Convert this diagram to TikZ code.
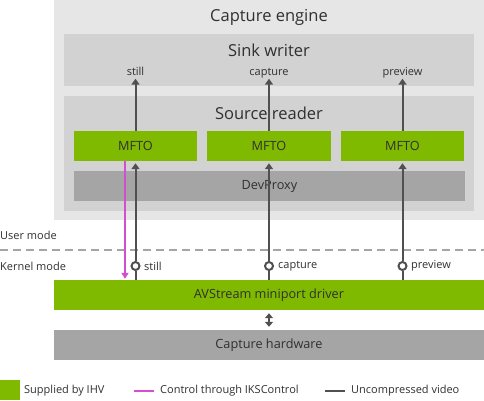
\documentclass[tikz,border=0pt]{standalone}
\usepackage{fontspec}
\setmainfont{Open Sans}
\usetikzlibrary{arrows.meta}
\definecolor{enginegray}{HTML}{E6E6E6}
\definecolor{panelgray}{HTML}{D2D2D2}
\definecolor{proxygray}{HTML}{A5A5A5}
\definecolor{ihvgreen}{HTML}{7FBA00}
\definecolor{videogray}{HTML}{505050}
\definecolor{ctlpink}{HTML}{D050D0}
\definecolor{txtgray}{HTML}{303030}

\begin{document}
\begin{tikzpicture}[x=1pt,y=-1pt,
    every node/.style={text=txtgray},
    panel/.style={inner sep=0pt,minimum width=#1},
    title/.style={font=\fontsize{16.5}{18}\selectfont},
    body/.style={font=\fontsize{12.7}{14}\selectfont},
    small/.style={font=\fontsize{11}{13}\selectfont},
    pinlabel/.style={small,inner sep=1pt,text height=8pt,text depth=2pt},
    pin/.style={circle,draw=videogray,fill=white,line width=2pt,inner sep=0pt,minimum size=8pt},
    video/.style={draw=videogray,line width=2pt},
    control/.style={draw=ctlpink,line width=2pt},
    tip/.style={-{Triangle[width=8pt,length=6pt]},shorten >=2pt}]
\useasboundingbox (0,0) rectangle (484,400);

% capture engine with its two panels
\node[panel=430pt,minimum height=220pt,fill=enginegray] (engine) at (269,110) {};
\node[title] (enginetitle) at (269,17) {Capture engine};
\node[panel=410pt,minimum height=52pt,fill=panelgray] (sink) at (269,60) {};
\node[title] (sinktitle) at (269,50) {Sink writer};
\node[panel=410pt,minimum height=115pt,fill=panelgray] (source) at (269,153.5) {};
\node[title] (sourcetitle) at (269,113) {Source reader};

% sink writer inputs
\node[pinlabel] (instill) at (135.5,72.5) {still};
\node[pinlabel] (incapture) at (269,72.5) {capture};
\node[pinlabel] (inpreview) at (402.5,72.5) {preview};

% MFTO boxes and DevProxy
\node[body,panel=123pt,minimum height=30pt,fill=ihvgreen] (mftostill) at (135.5,146) {MFTO};
\node[body,panel=124pt,minimum height=30pt,fill=ihvgreen] (mftocapture) at (269,146) {MFTO};
\node[body,panel=123pt,minimum height=30pt,fill=ihvgreen] (mftopreview) at (402.5,146) {MFTO};
\node[body,panel=391pt,minimum height=30pt,fill=proxygray] (devproxy) at (269.5,186) {DevProxy};

% user / kernel boundary
\draw[proxygray,line width=2pt,dash pattern=on 8pt off 5pt] (0,250) -- (484,250);
\node[small,anchor=west,inner sep=0pt] (usermode) at (0,235) {User mode};
\node[small,anchor=west,inner sep=0pt] (kernelmode) at (0,266) {Kernel mode};

% driver and hardware
\node[body,panel=430pt,minimum height=30pt,fill=ihvgreen] (avs) at (269,295) {AVStream miniport driver};
\node[body,panel=430pt,minimum height=30pt,fill=proxygray] (hw) at (269,345) {Capture hardware};

% stream pins
\node[pin] (pinstill) at (135.5,266) {};
\node[pin] (pincapture) at (269,266) {};
\node[pin] (pinpreview) at (402.5,266) {};
\node[small,anchor=west,inner sep=0pt] (lblstill) at (144,266) {still};
\node[small,anchor=west,inner sep=0pt] (lblcapture) at (278,266) {capture};
\node[small,anchor=west,inner sep=0pt] (lblpreview) at (411,266) {preview};

% video connectors
\foreach \s in {still,capture,preview} {
  \draw[video] (avs.north -| pin\s) -- (pin\s);
  \draw[video,tip] (pin\s) -- (mfto\s.south);
  \draw[video,tip,shorten >=0pt] (mfto\s.north) -- (in\s.south);
}
\draw[video,{Triangle[width=8pt,length=5pt]}-{Triangle[width=8pt,length=5pt]},shorten <=3pt,shorten >=3pt] (avs.south) -- (hw.north);

% control through IKSControl
\coordinate (ctl) at (125,0);
\draw[control,-{Triangle[width=7pt,length=6pt]},shorten >=1pt] (mftostill.south -| ctl) -- (avs.north -| ctl);

% legend
\node[panel=20pt,minimum height=20pt,fill=ihvgreen] (keyihv) at (10,390) {};
\node[small,anchor=west,inner sep=0pt] (keyihvtext) at (24,391) {Supplied by IHV};
\coordinate (keyctla) at (134,391);
\coordinate (keyctlb) at (154,391);
\draw[control] (keyctla) -- (keyctlb);
\node[small,anchor=west,inner sep=0pt] (keyctltext) at (160,391) {Control through IKSControl};
\coordinate (keyvida) at (325,391);
\coordinate (keyvidb) at (345,391);
\draw[video] (keyvida) -- (keyvidb);
\node[small,anchor=west,inner sep=0pt] (keyvidtext) at (351,391) {Uncompressed video};
\end{tikzpicture}
\end{document}
